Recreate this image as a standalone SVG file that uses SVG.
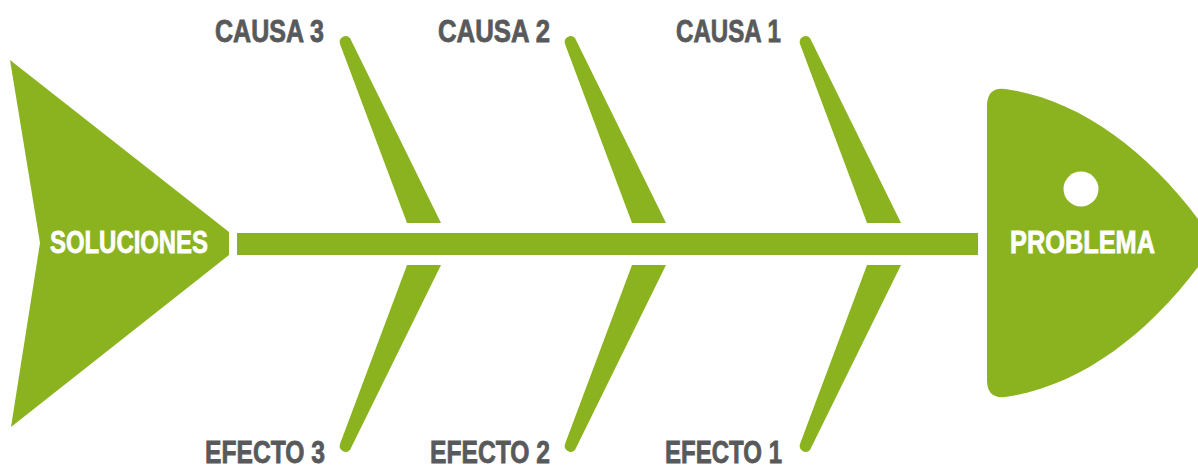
<svg xmlns="http://www.w3.org/2000/svg" width="1198" height="467" viewBox="0 0 1198 467">
  <style>
    .g { fill: #8BB320; }
    .lbl { font-family: "Liberation Sans Narrow", "Liberation Sans", Arial, sans-serif; font-weight: bold; fill: #58595B; stroke: #58595B; stroke-width: 0.8px; font-size: 31px; }
    .in { font-family: "Liberation Sans Narrow", "Liberation Sans", Arial, sans-serif; font-weight: bold; fill: #FFFFFF; stroke: #FFFFFF; stroke-width: 0.8px; font-size: 31px; }
  </style>
  <defs>
    <path id="boneUp" d="M 407,223 L 340,44 A 6 6 0 0 1 350,38 L 441,223 Z"/>
    <path id="boneDown" d="M 407,265 L 340,444 A 6 6 0 0 0 350,450 L 441,265 Z"/>
  </defs>
  <rect width="1198" height="467" fill="#FFFFFF"/>

  <g id="connectors">
    <rect class="g" x="237" y="233" width="741" height="22"/>
    <use href="#boneUp" class="g"/>
    <use href="#boneUp" class="g" transform="translate(225,0)"/>
    <use href="#boneUp" class="g" transform="translate(460,0)"/>
    <use href="#boneDown" class="g"/>
    <use href="#boneDown" class="g" transform="translate(225,0)"/>
    <use href="#boneDown" class="g" transform="translate(460,0)"/>
  </g>

  <g id="soluciones">
    <polygon class="g" points="10,60 229,232 229,255 11,427 40,243"/>
    <text class="in" x="50" y="253" textLength="158" lengthAdjust="spacingAndGlyphs">SOLUCIONES</text>
  </g>

  <g id="problema">
    <path class="g" d="M 987,106 Q 987,87 1005,89 C 1085,100 1160,160 1215,243 C 1160,326 1085,386 1005,397 Q 987,399 987,380 Z"/>
    <circle cx="1081" cy="189" r="17.5" fill="#FFFFFF"/>
    <text class="in" x="1010" y="253" textLength="145" lengthAdjust="spacingAndGlyphs">PROBLEMA</text>
  </g>

  <g id="causa3"><text class="lbl" x="215" y="42" textLength="109" lengthAdjust="spacingAndGlyphs">CAUSA 3</text></g>
  <g id="causa2"><text class="lbl" x="438" y="42" textLength="112" lengthAdjust="spacingAndGlyphs">CAUSA 2</text></g>
  <g id="causa1"><text class="lbl" x="676" y="42" textLength="105" lengthAdjust="spacingAndGlyphs">CAUSA 1</text></g>
  <g id="efecto3"><text class="lbl" x="205" y="463" font-size="29" textLength="120" lengthAdjust="spacingAndGlyphs">EFECTO 3</text></g>
  <g id="efecto2"><text class="lbl" x="430" y="463" font-size="29" textLength="120" lengthAdjust="spacingAndGlyphs">EFECTO 2</text></g>
  <g id="efecto1"><text class="lbl" x="665" y="463" font-size="29" textLength="117" lengthAdjust="spacingAndGlyphs">EFECTO 1</text></g>
</svg>
